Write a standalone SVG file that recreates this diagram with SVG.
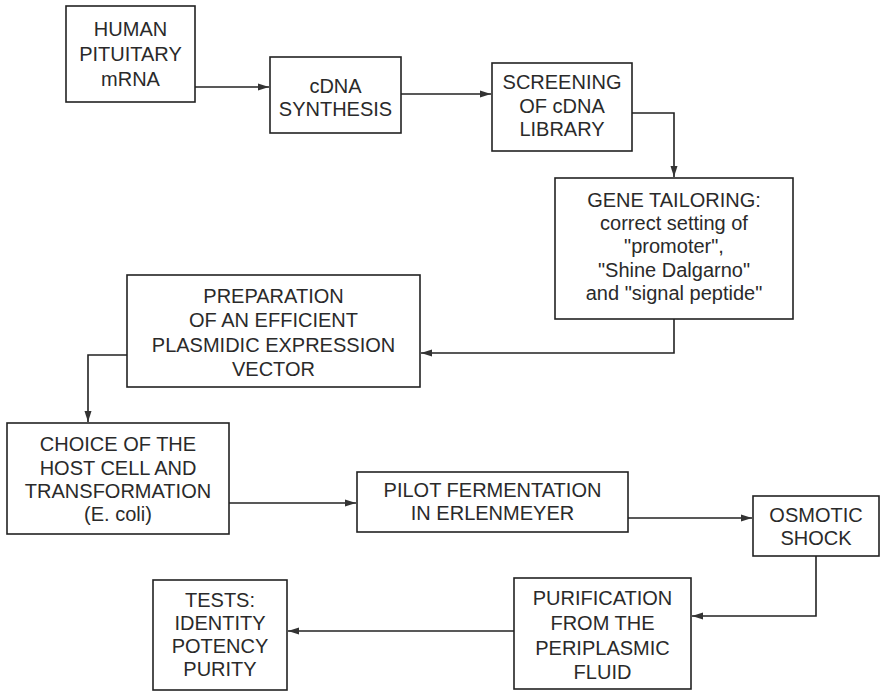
<svg xmlns="http://www.w3.org/2000/svg" width="883" height="692" viewBox="0 0 883 692">
<style>
.box{fill:#fff;stroke:#222;stroke-width:1.6}
.t{font-family:"Liberation Sans",Arial,sans-serif;font-size:20px;fill:#2a2a2a;text-anchor:middle}
.c{fill:none;stroke:#222;stroke-width:1.6}
</style>
<defs>
<marker id="ah" markerUnits="userSpaceOnUse" markerWidth="12" markerHeight="8" refX="11" refY="4" orient="auto">
<path d="M0,0.5 L11,4 L0,7.5 z" fill="#333"/>
</marker>
</defs>
<rect width="883" height="692" fill="#fff"/>
<g id="connectors">
<path class="c" d="M195,87 H269" marker-end="url(#ah)"/>
<path class="c" d="M401,94 H491" marker-end="url(#ah)"/>
<path class="c" d="M632,113 H674 V177" marker-end="url(#ah)"/>
<path class="c" d="M674,319 V353 H421" marker-end="url(#ah)"/>
<path class="c" d="M127,355 H88 V422" marker-end="url(#ah)"/>
<path class="c" d="M229,503 H356" marker-end="url(#ah)"/>
<path class="c" d="M628,518 H752" marker-end="url(#ah)"/>
<path class="c" d="M816,556 V616 H692" marker-end="url(#ah)"/>
<path class="c" d="M514,631 H288" marker-end="url(#ah)"/>
</g>
<g id="n1"><rect class="box" x="66" y="6" width="129" height="96"/>
<text class="t" x="130.5" y="36">HUMAN</text><text class="t" x="130.5" y="61">PITUITARY</text><text class="t" x="130.5" y="86">mRNA</text></g>
<g id="n2"><rect class="box" x="270" y="57" width="131" height="76"/>
<text class="t" x="335.5" y="93">cDNA</text><text class="t" x="335.5" y="116">SYNTHESIS</text></g>
<g id="n3"><rect class="box" x="492" y="63" width="140" height="88"/>
<text class="t" x="562" y="89">SCREENING</text><text class="t" x="562" y="113">OF cDNA</text><text class="t" x="562" y="136">LIBRARY</text></g>
<g id="n4"><rect class="box" x="555" y="178" width="238" height="141"/>
<text class="t" x="674" y="207">GENE TAILORING:</text><text class="t" x="674" y="230">correct setting of</text><text class="t" x="674" y="253">"promoter",</text><text class="t" x="674" y="277">"Shine Dalgarno"</text><text class="t" x="674" y="300">and "signal peptide"</text></g>
<g id="n5"><rect class="box" x="127" y="275" width="293" height="112"/>
<text class="t" x="273.5" y="303">PREPARATION</text><text class="t" x="273.5" y="327">OF AN EFFICIENT</text><text class="t" x="273.5" y="352">PLASMIDIC EXPRESSION</text><text class="t" x="273.5" y="376">VECTOR</text></g>
<g id="n6"><rect class="box" x="7" y="423" width="222" height="111"/>
<text class="t" x="118" y="451">CHOICE OF THE</text><text class="t" x="118" y="475">HOST CELL AND</text><text class="t" x="118" y="498">TRANSFORMATION</text><text class="t" x="118" y="521">(E. coli)</text></g>
<g id="n7"><rect class="box" x="357" y="472" width="271" height="60"/>
<text class="t" x="492.5" y="497">PILOT FERMENTATION</text><text class="t" x="492.5" y="520">IN ERLENMEYER</text></g>
<g id="n8"><rect class="box" x="753" y="496" width="126" height="60"/>
<text class="t" x="816" y="522">OSMOTIC</text><text class="t" x="816" y="545">SHOCK</text></g>
<g id="n9"><rect class="box" x="514" y="578" width="177" height="111"/>
<text class="t" x="602.5" y="605">PURIFICATION</text><text class="t" x="602.5" y="630">FROM THE</text><text class="t" x="602.5" y="655">PERIPLASMIC</text><text class="t" x="602.5" y="679">FLUID</text></g>
<g id="n10"><rect class="box" x="153" y="580" width="134" height="110"/>
<text class="t" x="220" y="607">TESTS:</text><text class="t" x="220" y="630">IDENTITY</text><text class="t" x="220" y="653">POTENCY</text><text class="t" x="220" y="676">PURITY</text></g>
</svg>
